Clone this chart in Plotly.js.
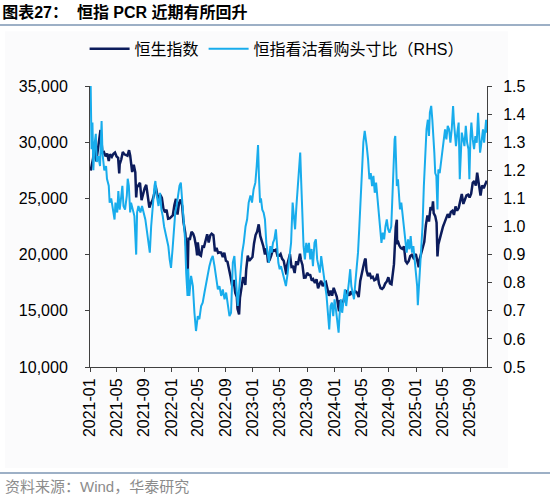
<!DOCTYPE html>
<html><head><meta charset="utf-8">
<script src="https://cdn.plot.ly/plotly-3.0.1.min.js"></script>
<style>html,body{margin:0;padding:0;background:#fff}#chart{width:550px;height:497px}</style>
</head><body><div id="chart"></div>
<script>
const seriesNames = ['恒生指数', '恒指看沽看购头寸比（RHS）'];
const chartTitle = '图表27：  恒指 PCR 近期有所回升';
const sourceText = '资料来源：Wind，华泰研究';
const leftTicks = [10000, 15000, 20000, 25000, 30000, 35000];
const rightTicks = [0.5, 0.6, 0.7, 0.8, 0.9, 1.0, 1.1, 1.2, 1.3, 1.4, 1.5];

const hsiDates = [
'2021-01-04','2021-01-08','2021-01-15','2021-01-20','2021-01-22','2021-01-29','2021-02-05','2021-02-10','2021-02-17','2021-02-19','2021-02-26',
'2021-03-05','2021-03-12','2021-03-19','2021-03-26','2021-04-01','2021-04-09','2021-04-16','2021-04-23','2021-04-30','2021-05-07','2021-05-12','2021-05-14','2021-05-21','2021-05-28',
'2021-06-04','2021-06-11','2021-06-18','2021-06-25','2021-06-30','2021-07-09','2021-07-16','2021-07-23','2021-07-27','2021-07-30','2021-08-06','2021-08-13','2021-08-20','2021-08-27',
'2021-09-03','2021-09-10','2021-09-17','2021-09-24','2021-10-01','2021-10-08','2021-10-15','2021-10-22','2021-10-29','2021-11-05','2021-11-12','2021-11-19','2021-11-26',
'2021-12-03','2021-12-10','2021-12-17','2021-12-24','2021-12-31',
'2022-01-07','2022-01-14','2022-01-21','2022-01-28','2022-02-04','2022-02-11','2022-02-18','2022-02-24','2022-03-04','2022-03-08','2022-03-11','2022-03-15','2022-03-16','2022-03-18','2022-03-25',
'2022-04-01','2022-04-08','2022-04-14','2022-04-22','2022-04-26','2022-04-29','2022-05-06','2022-05-13','2022-05-20','2022-05-27','2022-06-02','2022-06-10','2022-06-17','2022-06-24','2022-06-30',
'2022-07-08','2022-07-15','2022-07-22','2022-07-29','2022-08-05','2022-08-12','2022-08-19','2022-08-26','2022-09-02','2022-09-09','2022-09-16','2022-09-23','2022-09-30',
'2022-10-07','2022-10-14','2022-10-21','2022-10-24','2022-10-28','2022-10-31','2022-11-04','2022-11-11','2022-11-18','2022-11-25','2022-11-28','2022-12-02','2022-12-09','2022-12-16','2022-12-23','2022-12-30',
'2023-01-06','2023-01-13','2023-01-20','2023-01-27','2023-02-03','2023-02-10','2023-02-17','2023-02-24','2023-03-03','2023-03-10','2023-03-17','2023-03-24','2023-03-31',
'2023-04-06','2023-04-14','2023-04-21','2023-04-28','2023-05-05','2023-05-12','2023-05-19','2023-05-26','2023-05-31','2023-06-02','2023-06-09','2023-06-16','2023-06-23','2023-06-30',
'2023-07-07','2023-07-14','2023-07-21','2023-07-28','2023-07-31','2023-08-04','2023-08-11','2023-08-18','2023-08-25','2023-09-01','2023-09-08','2023-09-15','2023-09-22','2023-09-28',
'2023-10-06','2023-10-13','2023-10-20','2023-10-27','2023-11-03','2023-11-10','2023-11-17','2023-11-24','2023-12-01','2023-12-08','2023-12-15','2023-12-22','2023-12-29',
'2024-01-05','2024-01-12','2024-01-19','2024-01-22','2024-01-26','2024-02-02','2024-02-09','2024-02-16','2024-02-23','2024-03-01','2024-03-08','2024-03-15','2024-03-22','2024-03-28',
'2024-04-05','2024-04-12','2024-04-19','2024-04-26','2024-05-03','2024-05-10','2024-05-17','2024-05-20','2024-05-24','2024-05-31','2024-06-07','2024-06-14','2024-06-21','2024-06-28',
'2024-07-05','2024-07-12','2024-07-19','2024-07-26','2024-08-02','2024-08-09','2024-08-16','2024-08-23','2024-08-30','2024-09-06','2024-09-13','2024-09-20','2024-09-24','2024-09-26','2024-09-27','2024-09-30',
'2024-10-02','2024-10-07','2024-10-08','2024-10-11','2024-10-18','2024-10-25','2024-11-01','2024-11-08','2024-11-15','2024-11-22','2024-11-29','2024-12-06','2024-12-13','2024-12-20','2024-12-31',
'2025-01-03','2025-01-10','2025-01-13','2025-01-17','2025-01-24','2025-02-07','2025-02-14','2025-02-21','2025-02-28','2025-03-07','2025-03-14','2025-03-18','2025-03-21','2025-03-28',
'2025-04-03','2025-04-07','2025-04-11','2025-04-17','2025-04-25','2025-05-02','2025-05-09','2025-05-16','2025-05-23','2025-05-30','2025-06-06','2025-06-13','2025-06-20','2025-06-27',
'2025-07-04','2025-07-11','2025-07-18','2025-07-25','2025-08-01','2025-08-08','2025-08-15','2025-08-22','2025-08-29','2025-09-05','2025-09-12','2025-09-19','2025-09-26',
'2025-10-02','2025-10-10','2025-10-17','2025-10-24','2025-10-31','2025-11-07','2025-11-14'
];
const hsiValues = [
27472,27878,28573,29962,29447,28284,29289,30038,31085,30644,28980,
29098,28739,28990,28336,28939,28699,28970,29079,28725,28610,27231,28027,28458,29124,
28918,28842,28801,29288,28828,27344,28004,27322,25086,25961,26179,26391,24849,25407,
25901,26205,24920,24192,24575,24838,25330,26127,25377,24871,25328,25049,24080,
23767,23996,23193,23224,23398,
23494,24383,24966,23550,24573,24906,24327,22901,21906,20765,20554,18415,20087,21412,21404,
22039,21872,21519,20639,19934,21089,20001,19898,20717,20697,21082,21806,21075,21719,21860,
21725,20297,20609,20156,20202,20175,19773,20170,19452,19362,18762,18033,17223,
17740,16588,16211,15180,14863,14687,16161,17326,17993,17574,17298,18675,19901,19450,19593,19781,
20991,21738,22045,22689,21660,21190,20719,20010,20567,19320,19518,19916,20400,
20331,20439,19898,19895,20049,19628,19450,18747,18234,18950,19390,20041,18890,18916,
18366,19414,19075,19917,20079,19539,19075,17950,17956,18382,18202,18183,17681,17810,
17485,17813,16995,17399,17664,17203,17454,17560,16830,16335,16792,16340,17047,
16535,16244,15309,14961,15952,15533,15747,16340,16726,16589,16353,16720,16499,16541,
16724,16600,16224,17651,18476,18964,19553,19636,18609,18079,18367,17942,18028,17719,
17800,18293,17418,17021,16945,17090,17430,17612,17989,17444,17369,18258,19129,19924,20355,21134,
22443,23099,20927,21252,20804,20590,20506,20728,19426,19230,19423,19866,19971,19720,20060,
19760,19064,18874,19584,20066,21133,22620,23478,22941,24231,23959,24740,23690,23426,
22849,19828,20915,21395,21980,22504,22868,23345,23601,23290,23792,23893,23530,24284,
23916,24139,24826,25388,24508,24859,25270,25339,25078,25418,26388,26545,26128,
27287,26290,25247,26160,25907,26241,26572
];

const pcrDates = [
'2021-01-04','2021-01-06','2021-01-08','2021-01-12','2021-01-16','2021-01-21','2021-01-27','2021-01-31','2021-02-07','2021-02-15','2021-02-22','2021-02-26',
'2021-03-06','2021-03-14','2021-03-18','2021-03-26','2021-03-30','2021-04-06','2021-04-13','2021-04-21','2021-04-25','2021-05-03','2021-05-08','2021-05-14','2021-05-20','2021-05-26','2021-05-31',
'2021-06-07','2021-06-15','2021-06-19','2021-06-24','2021-06-30','2021-07-04','2021-07-12','2021-07-19','2021-07-27','2021-07-31','2021-08-06','2021-08-15','2021-08-22','2021-08-30',
'2021-09-06','2021-09-14','2021-09-21','2021-09-26','2021-10-02','2021-10-09','2021-10-17','2021-10-21','2021-10-27','2021-11-04','2021-11-11','2021-11-17','2021-11-23','2021-11-29',
'2021-12-05','2021-12-11','2021-12-18','2021-12-24','2021-12-30',
'2022-01-06','2022-01-12','2022-01-18','2022-01-24','2022-01-30','2022-02-06','2022-02-12','2022-02-17','2022-02-25','2022-03-03','2022-03-08','2022-03-14','2022-03-17','2022-03-22','2022-03-30',
'2022-04-07','2022-04-14','2022-04-21','2022-04-29','2022-05-06','2022-05-14','2022-05-21','2022-05-29','2022-06-05','2022-06-13','2022-06-20','2022-06-28',
'2022-07-05','2022-07-13','2022-07-20','2022-07-28','2022-08-04','2022-08-12','2022-08-19','2022-08-27','2022-09-03','2022-09-10','2022-09-18','2022-09-25',
'2022-10-03','2022-10-10','2022-10-18','2022-10-25','2022-10-30','2022-11-06','2022-11-14','2022-11-21','2022-11-29','2022-12-06','2022-12-13','2022-12-21','2022-12-28',
'2023-01-04','2023-01-12','2023-01-18','2023-01-24','2023-01-28','2023-02-02','2023-02-06','2023-02-12','2023-02-18','2023-02-24','2023-03-02','2023-03-08','2023-03-14','2023-03-20','2023-03-26',
'2023-04-01','2023-04-07','2023-04-14','2023-04-19','2023-04-25','2023-05-01','2023-05-07','2023-05-14','2023-05-22','2023-05-29','2023-06-06','2023-06-13','2023-06-21','2023-06-28',
'2023-07-03','2023-07-09','2023-07-15','2023-07-21','2023-07-27','2023-08-01','2023-08-05','2023-08-10','2023-08-16','2023-08-22','2023-08-28','2023-09-03','2023-09-09','2023-09-15','2023-09-21','2023-09-27',
'2023-10-04','2023-10-10','2023-10-16','2023-10-22','2023-10-28','2023-11-03','2023-11-09','2023-11-15','2023-11-21','2023-11-27','2023-12-03','2023-12-09','2023-12-15','2023-12-21','2023-12-27',
'2024-01-02','2024-01-08','2024-01-14','2024-01-20','2024-01-24','2024-01-30','2024-02-05','2024-02-11','2024-02-17','2024-02-23','2024-02-29','2024-03-06','2024-03-12','2024-03-17','2024-03-23','2024-03-29',
'2024-04-04','2024-04-10','2024-04-16','2024-04-22','2024-04-28','2024-05-04','2024-05-10','2024-05-16','2024-05-20','2024-05-25','2024-05-31','2024-06-06','2024-06-12','2024-06-18','2024-06-24','2024-06-30',
'2024-07-06','2024-07-12','2024-07-18','2024-07-24','2024-07-30','2024-08-05','2024-08-11','2024-08-17','2024-08-23','2024-08-29','2024-09-04','2024-09-12','2024-09-18','2024-09-22','2024-09-27','2024-09-30',
'2024-10-03','2024-10-07','2024-10-12','2024-10-16','2024-10-21','2024-10-27','2024-11-02','2024-11-08','2024-11-14','2024-11-20','2024-11-26','2024-12-02','2024-12-08','2024-12-14','2024-12-20','2024-12-26',
'2025-01-01','2025-01-06','2025-01-09','2025-01-14','2025-01-20','2025-01-24','2025-01-30','2025-02-05','2025-02-11','2025-02-17','2025-02-23','2025-02-28','2025-03-04','2025-03-10','2025-03-15','2025-03-19','2025-03-24','2025-03-28',
'2025-04-02','2025-04-07','2025-04-11','2025-04-17','2025-04-23','2025-04-29','2025-05-05','2025-05-11','2025-05-17','2025-05-23','2025-05-29','2025-06-04','2025-06-10','2025-06-16','2025-06-20','2025-06-25','2025-06-29',
'2025-07-05','2025-07-11','2025-07-16','2025-07-20','2025-07-25','2025-07-31','2025-08-06','2025-08-12','2025-08-18','2025-08-24','2025-08-28','2025-09-02','2025-09-06','2025-09-12','2025-09-18','2025-09-24','2025-09-30',
'2025-10-06','2025-10-10','2025-10-15','2025-10-19','2025-10-24','2025-10-28','2025-11-02','2025-11-06','2025-11-11','2025-11-14'
];
const pcrValues = [
1.50,1.38,1.275,1.37,1.20,1.29,1.33,1.23,1.25,1.215,1.375,1.26,
1.20,1.215,1.17,1.145,1.085,1.10,1.06,1.025,1.085,1.05,1.126,1.06,1.10,1.145,1.073,
1.06,1.11,1.17,1.145,1.05,1.085,1.06,1.037,0.90,1.05,1.073,1.05,1.073,1.05,
1.025,0.978,0.93,0.907,1.00,1.085,1.145,1.162,1.11,1.073,1.12,1.06,1.037,1.00,
0.978,0.954,0.93,0.883,0.853,
0.92,1.00,1.05,1.073,1.11,1.145,1.156,1.11,1.025,0.954,0.836,0.753,0.85,0.753,0.824,
0.788,0.693,0.628,0.681,0.67,0.717,0.729,0.765,0.80,0.824,0.859,0.883,
0.895,0.859,0.812,0.776,0.788,0.753,0.776,0.741,0.765,0.717,0.681,0.693,
0.871,0.895,0.80,0.717,0.765,0.836,0.907,0.942,1.00,1.025,1.085,1.11,1.085,
1.132,1.156,1.215,1.29,1.18,1.085,1.10,1.06,1.05,1.025,0.942,0.907,0.871,0.93,0.907,
0.942,0.954,0.99,0.942,0.871,0.848,0.859,0.836,0.812,0.788,0.836,0.883,0.942,1.085,
1.05,0.99,1.073,1.144,1.215,1.263,1.168,1.05,0.93,0.883,0.942,0.907,0.942,0.883,0.92,0.859,
0.942,0.954,0.883,0.859,0.836,0.895,0.859,0.836,0.80,0.753,0.693,0.634,0.717,0.729,0.681,
0.741,0.705,0.67,0.622,0.681,0.741,0.693,0.741,0.776,0.717,0.753,0.80,0.848,0.788,0.765,0.741,
0.80,0.859,0.907,1.00,1.12,1.227,1.30,1.34,1.322,1.286,1.239,1.168,1.19,1.144,1.18,1.12,
1.156,1.109,1.05,0.99,0.942,0.978,0.954,1.00,1.025,0.99,0.978,1.00,1.12,1.239,1.31,1.322,
1.203,1.144,1.168,1.109,1.061,1.085,1.037,0.978,0.93,0.907,0.954,0.919,0.966,0.907,0.93,0.883,
0.836,0.788,0.72,0.788,0.836,0.883,1.00,1.144,1.263,1.346,1.38,1.322,1.405,1.429,1.38,1.334,1.263,1.19,
1.18,1.061,1.203,1.19,1.227,1.263,1.298,1.346,1.31,1.358,1.346,1.298,1.346,1.429,1.37,1.322,1.286,
1.334,1.37,1.168,1.227,1.334,1.31,1.286,1.358,1.298,1.275,1.168,1.322,1.37,1.31,1.275,1.322,1.298,
1.405,1.346,1.263,1.286,1.334,1.346,1.298,1.346,1.38,1.334
];

const navy = '#0C1C5C';
const lightBlue = '#18ACEC';
const axisColor = '#404040';
const latin = 'Liberation Sans, Arial, Noto Sans CJK SC, sans-serif';

const traces = [
  {x: hsiDates, y: hsiValues, name: seriesNames[0], type: 'scatter', mode: 'lines',
   line: {color: navy, width: 2.5}, yaxis: 'y'},
  {x: pcrDates, y: pcrValues, name: seriesNames[1], type: 'scatter', mode: 'lines',
   line: {color: lightBlue, width: 2}, yaxis: 'y2'}
];

const layout = {
  width: 550, height: 497,
  margin: {l: 90, r: 63, t: 86, b: 130},
  paper_bgcolor: '#ffffff', plot_bgcolor: 'rgba(0,0,0,0)',
  font: {family: latin, size: 16, color: '#000'},
  title: {text: chartTitle, x: 0.004, xref: 'container', xanchor: 'left', y: 0.976, yref: 'container', yanchor: 'middle',
          font: {family: 'Liberation Sans, Noto Sans CJK SC, sans-serif', size: 16, color: '#000', weight: 'bold'}},
  showlegend: true,
  legend: {orientation: 'h', x: 0.47, xanchor: 'center', y: 1.132, yanchor: 'middle',
           font: {family: latin, size: 16, color: '#000'}, itemwidth: 40, bgcolor: 'rgba(0,0,0,0)', tracegroupgap: 0},
  xaxis: {type: 'date', range: ['2021-01-01', '2025-11-15'], tick0: '2021-01-01', dtick: 'M4', tickformat: '%Y-%m',
          tickangle: -90, ticks: 'outside', ticklen: 4, tickcolor: axisColor, showline: true, linecolor: axisColor, linewidth: 1,
          showgrid: false, zeroline: false, tickfont: {size: 16}},
  yaxis: {range: [10000, 35000], tickvals: leftTicks, tickformat: ',d', ticks: 'outside', ticklen: 4, tickcolor: axisColor,
          showline: true, linecolor: axisColor, linewidth: 1, showgrid: false, zeroline: false, tickfont: {size: 16},
          ticklabelstandoff: 14},
  yaxis2: {range: [0.5, 1.5], tickvals: rightTicks, tickformat: '.1f', overlaying: 'y', side: 'right', ticks: 'outside', ticklen: 4,
           tickcolor: axisColor, showline: true, linecolor: axisColor, linewidth: 1, showgrid: false, zeroline: false,
           tickfont: {size: 16}, ticklabelstandoff: 8},
  shapes: [
    {type: 'rect', xref: 'paper', yref: 'paper', x0: -0.214, x1: 1.053, y0: -0.359, y1: 1.195, fillcolor: '#FBFBFC', line: {width: 0}, layer: 'below'},
    {type: 'line', xref: 'paper', yref: 'paper', x0: -0.2267, x1: 1.1587, y0: 1.217, y1: 1.217, line: {color: '#9DB0C6', width: 2}},
    {type: 'line', xref: 'paper', yref: 'paper', x0: -0.2267, x1: 1.1587, y0: -0.377, y1: -0.377, line: {color: '#9DB0C6', width: 2}}
  ],
  annotations: [
    {text: sourceText, xref: 'paper', yref: 'paper', x: -0.219, xanchor: 'left', y: -0.4235, yanchor: 'middle', showarrow: false,
     font: {family: latin, size: 15, color: '#8C8C8C'}}
  ]
};

Plotly.newPlot('chart', traces, layout, {displayModeBar: false, staticPlot: true});
</script>
</body></html>
